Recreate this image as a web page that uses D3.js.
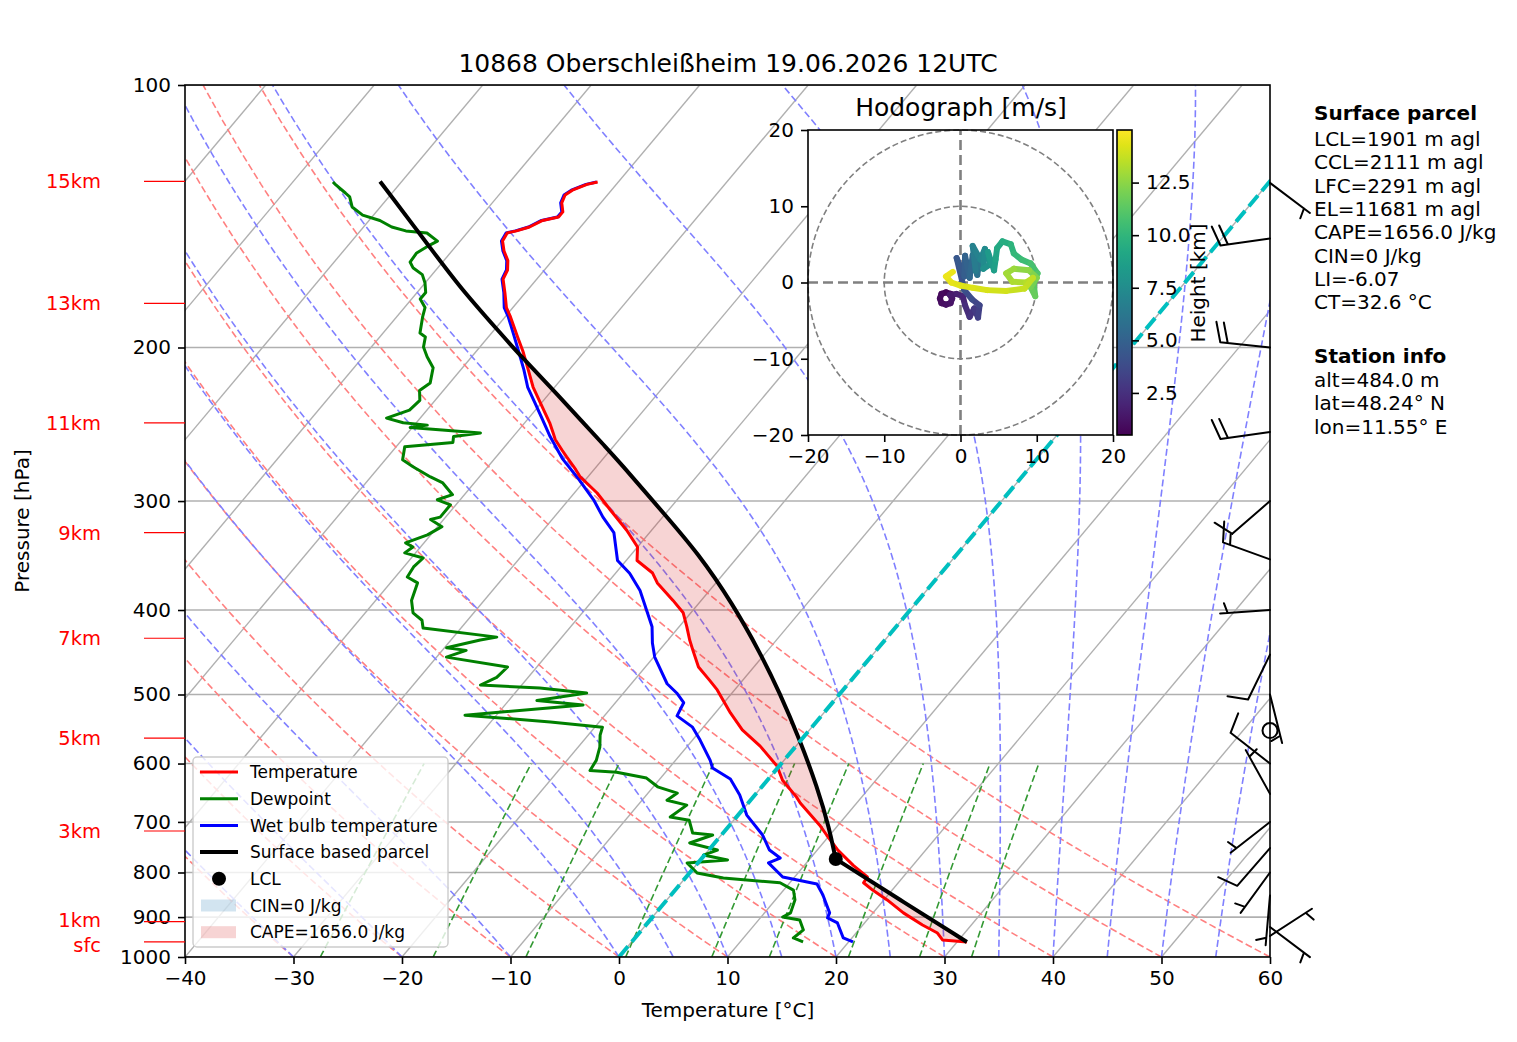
<!DOCTYPE html>
<html>
<head>
<meta charset="utf-8">
<script src="https://d3js.org/d3.v7.min.js"></script>
<style>
  body { margin: 0; background: #fff; }
  svg text { font-family: "DejaVu Sans", sans-serif; }
</style>
</head>
<body>
<svg id="chart" width="1517" height="1042"></svg>

<script>
// ---- sounding profiles (pressure hPa, value degC) ----
const tempP = [129.2,130,132,133.7,136.5,139.8,141.7,143,145.5,147,147.8,151,155,159,163,167,173,180,184.5,194.5,202,212,222,231.5,244,250.6,255,262,267,276,281.5,293.7,307,324,338.7,351,362.8,372.4,390,403,418,433,445,465,482,494,525,549,573,604,627,655.6,666,706,724.6,754,785,809.5,822,838,860,890,919,938.7,956,961];
const tempT = [-61.9,-62.7,-63.6,-63.9,-63.6,-62.8,-62.8,-64.0,-64.7,-65.6,-66.3,-66.1,-65.2,-64.1,-63.4,-63.1,-61.9,-60.6,-59.5,-57.3,-55.7,-53.8,-52.0,-50.1,-47.7,-46.6,-45.9,-44.5,-43.5,-41.7,-40.7,-37.9,-35.4,-32.3,-30.0,-29.0,-26.6,-25.4,-22.6,-20.7,-19.3,-18.0,-16.9,-15.1,-13.0,-11.6,-8.6,-6.2,-3.3,-0.2,1.4,4.0,4.8,8.3,9.7,11.9,14.5,16.7,16.8,18.2,20.3,22.8,25.5,27.5,28.5,30.9];

const dewP = [129.2,130,133,134.4,138,141,143,145.5,147,147.8,151,152.6,155.8,159.6,162,165,168.7,173,176,180,184.5,192.5,194.5,199.7,205,211,219.6,224,230,236,241,244,245.5,247,250.6,253,257,260,269,274,281.5,286,295,299,303,313,315,321,328,335,338.7,344,348.7,357,366.6,372.4,390,403,411,419.5,429.7,433,442,445,453,465,477.8,487.6,491.5,498,508,514,528,537.6,545,556.6,574.5,595,611,614,623.5,638,648.7,661,669.6,691,697,720.8,724.6,740,754,764,774,780,801,811.6,822,838,860,890,900,907,931,951,961];
const dewT = [-86.3,-85.9,-84.3,-83.6,-82.6,-81.0,-79.0,-77.4,-75.8,-73.7,-72.1,-72.5,-73.1,-73.0,-72.3,-70.9,-70.0,-69.2,-69.2,-68.1,-67.6,-66.6,-65.8,-65.2,-64.1,-62.7,-61.8,-62.2,-61.4,-61.6,-63.1,-61.2,-58.8,-60.2,-53.3,-55.5,-55.1,-59.2,-58.4,-56.9,-54.5,-52.9,-51.1,-52.1,-50.5,-50.5,-51.2,-49.6,-50.3,-51.7,-50.7,-51.0,-48.9,-49.1,-48.9,-47.5,-46.7,-45.6,-44.2,-43.5,-36.0,-37.3,-39.8,-37.8,-39.1,-32.7,-32.9,-33.8,-28.1,-23.4,-27.4,-22.8,-32.9,-24.5,-19.3,-18.9,-18.0,-17.3,-17.1,-14.5,-11.3,-9.6,-7.3,-7.7,-5.5,-6.1,-4.1,-2.8,-0.8,-2.3,0.8,-0.1,2.5,-1.0,0.7,3.5,9.1,10.9,11.8,12.4,12.0,13.8,14.9,14.6,15.8];

const wetP = [129.2,130,132,133.7,136.5,139.8,141.7,143,145.5,147,147.8,151,155,159,163,167,173,180,184.5,194.5,202,212,222,231.5,242,253,268,284,299,313,326,351,363,380,400,418,436.5,453,486,498,511,529,545,564,595,607,625,652,687.5,724.6,754,770,780,809.5,824.6,849,890,902,914,951,961];
const wetT = [-62.0,-62.8,-63.7,-64.0,-63.7,-62.9,-62.9,-64.1,-64.8,-65.7,-66.4,-66.2,-65.3,-64.2,-63.5,-63.2,-62.0,-60.8,-59.7,-57.6,-56.1,-54.2,-52.5,-50.6,-48.6,-46.6,-43.8,-40.5,-37.7,-35.5,-33.3,-30.8,-28.7,-26.4,-24.3,-22.5,-21.2,-19.9,-16.7,-15.1,-13.7,-13.3,-11.0,-9.3,-6.8,-6.0,-3.5,-1.4,0.8,3.8,5.6,7.2,6.5,8.9,12.6,14.0,16.0,16.2,17.5,19.2,20.4];

// surface based parcel: moist part (top down to LCL) and dry part (LCL to surface)
const parcelMoistP = [129,153.8,170.5,192.5,204,222,244,260,269,313,344,393,448,498,564,638,715,764,772];
const parcelMoistT = [-82.0,-72.2,-66.5,-59.2,-55.7,-50.4,-44.6,-40.7,-38.6,-29.6,-24.0,-16.9,-10.5,-5.6,-0.1,5.1,9.6,12.0,12.4];
const parcelDryP = [772,858,961];
const parcelDryT = [12.4,21.3,30.9];
const lclP = 772, lclT = 12.4;

// ---- axis ticks / background lines ----
const pTicks = [100,200,300,400,500,600,700,800,900,1000];
const tTicks = [-40,-30,-20,-10,0,10,20,30,40,50,60];
const isoT = d3.range(-110, 61, 10);
const dryT0 = [-40,-30,-20,-10,0,10,20,30,40,50,60];
const moistT0 = [-40,-30,-20,-10,0,5,10,15,20,25,30,35,40,45,50,55,60];
const mixW = [0.0004,0.001,0.002,0.004,0.007,0.01,0.016,0.024,0.032];

// ---- height markers on the left ----
const heightLabels = ["sfc","1km","3km","5km","7km","9km","11km","13km","15km"];
const heightP = [961,911,717,561,431,326,244,178,129];

// ---- wind barbs (knots, direction wind comes from) ----
const barbP = [129.5,150,200,250,300,350,400,450,500,550,600,650,700,750,800,850,924,946];
const barbDir = [127,262,276,262,229,290,266,206,166,0,308,331,232,221,216,185,127,57];
const barbSpd = [5,20,20,20,10,15,5,10,5,0,10,5,5,10,5,5,5,5];

// ---- hodograph (height km, u, v m/s) ----
const hodoH = [0.5,0.6,0.7,0.8,0.9,1.0,1.1,1.2,1.3,1.4,1.6,1.9,2.2,2.5,2.8,3.1,3.4,3.7,4.0,4.3,4.6,4.9,5.2,5.5,5.8,6.1,6.4,6.7,7.0,7.3,7.6,7.9,8.2,8.5,8.8,9.1,9.4,9.7,10.0,10.3,10.6,10.9,11.2,11.5,11.8,12.1,12.4,12.7,12.9,13.1,13.3,13.5,13.7,13.9,14.1,14.2,14.3,14.4,14.5,14.6];
const hodoU = [-1.1,-1.3,-1.9,-2.5,-2.7,-2.5,-1.9,-1.3,-1.1,-1.4,-0.5,0.3,0.6,1.2,1.8,2.3,2.5,1.5,0.5,-0.5,0.5,0.6,1.2,1.6,2.2,2.6,2.0,1.6,2.6,3.2,3.0,3.9,3.6,4.4,4.6,4.8,5.5,6.6,7.0,8.0,9.2,10.1,9.6,9.8,9.2,10.0,9.0,7.0,6.0,6.8,8.6,9.5,8.4,6.0,3.5,1.6,0.0,-1.2,-1.9,-1.0];
const hodoV = [-2.1,-1.5,-1.3,-1.5,-2.1,-2.7,-2.9,-2.7,-2.1,-1.6,-1.5,-1.8,-3.0,-4.5,-3.4,-4.6,-3.0,-2.2,-1.0,3.2,0.8,3.5,0.6,3.6,1.0,3.4,1.5,4.8,3.0,4.4,1.8,2.4,4.0,1.6,3.0,4.5,5.4,5.0,3.8,3.0,2.5,1.2,-0.2,-1.8,-0.6,0.6,1.6,1.8,1.2,0.1,0.0,0.6,-0.8,-1.1,-1.0,-0.7,-0.4,0.0,0.8,1.4];
const cbarTicks = [2.5,5.0,7.5,10.0,12.5];

// ---- text ----
const titleText = "10868 Oberschleißheim 19.06.2026 12UTC";
const parcelInfo = ["LCL=1901 m agl","CCL=2111 m agl","LFC=2291 m agl","EL=11681 m agl","CAPE=1656.0 J/kg","CIN=0 J/kg","LI=-6.07","CT=32.6 °C"];
const stationInfo = ["alt=484.0 m","lat=48.24° N","lon=11.55° E"];
const legendLabels = ["Temperature","Dewpoint","Wet bulb temperature","Surface based parcel","LCL","CIN=0 J/kg","CAPE=1656.0 J/kg"];

const svg = d3.select("#chart");
const defs = svg.append("defs");
defs.append("clipPath").attr("id", "plotClip")
  .append("rect").attr("x", 185).attr("y", 85).attr("width", 1085).attr("height", 872);

const x = d3.scaleLinear().domain([-40, 60]).range([185, 1270]);
const y = d3.scaleLog().domain([1000, 100]).range([957, 85]);
const skew = Math.tan(40 * Math.PI / 180);
const sx = (t, p) => x(t) + (y(1000) - y(p)) * skew;
const skewLine = d3.line().x(d => sx(d[0], d[1])).y(d => y(d[1]));
const skewCurve = d3.line().x(d => sx(d[0], d[1])).y(d => y(d[1])).curve(d3.curveBasis);

const plot = svg.append("g").attr("clip-path", "url(#plotClip)");

// horizontal grid + isotherms
plot.selectAll(".hgrid").data(pTicks).join("line")
  .attr("x1", 185).attr("x2", 1270).attr("y1", d => y(d)).attr("y2", d => y(d))
  .attr("stroke", "#b0b0b0").attr("stroke-width", 1.6);
plot.selectAll(".iso").data(isoT).join("path")
  .attr("d", t => skewLine([[t, 1000], [t, 100]]))
  .attr("fill", "none").attr("stroke", "#b0b0b0").attr("stroke-width", 1.4);

// dry adiabats
const presFine = d3.range(1000, 99, -10);
plot.selectAll(".dry").data(dryT0).join("path")
  .attr("d", t0 => skewLine(presFine.map(p => [(t0 + 273.15) * Math.pow(p / 1000, 0.28571) - 273.15, p])))
  .attr("fill", "none").attr("stroke", "#ff8080").attr("stroke-width", 1.6)
  .attr("stroke-dasharray", "7,3.3");

// moist adiabats
function moistRate(p, Tk) {
  const Tc = Tk - 273.15;
  const es = 6.112 * Math.exp(17.67 * Tc / (Tc + 243.5));
  const rs = 0.6219569 * es / (p - es);
  const Rd = 287.04749, Cp = 1004.6662, Lv = 2.50084e6;
  return (Rd * Tk + Lv * rs) / (Cp + (Lv * Lv * rs * 0.6219569) / (Rd * Tk * Tk)) / p;
}
function moistProfile(t0) {
  let T = t0 + 273.15, p = 1000;
  const dp = -5, out = [[t0, p]];
  while (p > 100) {
    const k1 = moistRate(p, T);
    const k2 = moistRate(p + dp / 2, T + dp / 2 * k1);
    const k3 = moistRate(p + dp / 2, T + dp / 2 * k2);
    const k4 = moistRate(p + dp, T + dp * k3);
    T += dp / 6 * (k1 + 2 * k2 + 2 * k3 + k4);
    p += dp;
    out.push([T - 273.15, p]);
  }
  return out;
}
plot.selectAll(".moist").data(moistT0).join("path")
  .attr("d", t0 => skewLine(moistProfile(t0)))
  .attr("fill", "none").attr("stroke", "#8080ff").attr("stroke-width", 1.6)
  .attr("stroke-dasharray", "7,3.3");

// mixing ratio lines
const presMix = d3.range(1000, 599, -10);
function dewFromW(w, p) {
  const e = p * w / (0.6219569 + w);
  const l = Math.log(e / 6.112);
  return 243.5 * l / (17.67 - l);
}
plot.selectAll(".mix").data(mixW).join("path")
  .attr("d", w => skewLine(presMix.map(p => [dewFromW(w, p), p])))
  .attr("fill", "none").attr("stroke", "#339933").attr("stroke-width", 1.6)
  .attr("stroke-dasharray", "7,3.3");

// layer for CAPE shading (filled later, once the parcel curve exists)
const capeG = plot.append("g");

// profiles
[[dewP, dewT, "#008000"], [wetP, wetT, "#0000ff"], [tempP, tempT, "#ff0000"]].forEach(([ps, ts, c]) => {
  plot.append("path").datum(d3.zip(ts, ps))
    .attr("d", skewLine).attr("fill", "none")
    .attr("stroke", c).attr("stroke-width", 3).attr("stroke-linejoin", "round");
});
const parcelPaths = [[parcelMoistP, parcelMoistT], [parcelDryP, parcelDryT]].map(([ps, ts]) =>
  plot.append("path").datum(d3.zip(ts, ps))
    .attr("d", skewCurve).attr("fill", "none")
    .attr("stroke", "#000").attr("stroke-width", 4).attr("stroke-linejoin", "round").node());

// sample the drawn parcel curve back into (p, T) for the shading
const parcelSamples = [];
parcelPaths.forEach(node => {
  const len = node.getTotalLength();
  for (let k = 0; k <= 600; k++) {
    const pt = node.getPointAtLength(len * k / 600);
    parcelSamples.push([y.invert(pt.y), x.invert(pt.x - (y(1000) - pt.y) * skew)]);
  }
});
parcelSamples.sort((a, b) => a[0] - b[0]);
const sampP = parcelSamples.map(d => d[0]), sampT = parcelSamples.map(d => d[1]);

function interpLogP(ps, ts, p) {
  const i = d3.bisectLeft(ps, p);
  if (i <= 0) return ts[0];
  if (i >= ps.length) return ts[ps.length - 1];
  const den = Math.log(ps[i]) - Math.log(ps[i - 1]);
  const f = den === 0 ? 0 : (Math.log(p) - Math.log(ps[i - 1])) / den;
  return ts[i - 1] + f * (ts[i] - ts[i - 1]);
}
const pLo = 129.5, pHi = 961;
const grid = d3.range(0, 2001).map(k => pLo * Math.pow(pHi / pLo, k / 2000));
const capePolys = [];
let cur = null;
grid.forEach(p => {
  const tp = interpLogP(sampP, sampT, p), te = interpLogP(tempP, tempT, p);
  if (tp > te) {
    if (!cur) { cur = []; capePolys.push(cur); }
    cur.push({ p, tp, te });
  } else cur = null;
});
capeG.selectAll("path").data(capePolys.filter(c => c.length > 1)).join("path")
  .attr("d", c => {
    const pts = c.map(d => [sx(d.tp, d.p), y(d.p)]).concat(c.slice().reverse().map(d => [sx(d.te, d.p), y(d.p)]));
    return "M" + pts.map(q => q.join(",")).join("L") + "Z";
  })
  .attr("fill", "rgba(214,39,40,0.2)").attr("stroke", "none");

// 0 degC isotherm
plot.append("path").attr("d", skewLine([[0, 1000], [0, 100]]))
  .attr("fill", "none").attr("stroke", "#00bfbf").attr("stroke-width", 4)
  .attr("stroke-dasharray", "14,6");

// LCL dot
svg.append("circle").attr("cx", sx(lclT, lclP)).attr("cy", y(lclP)).attr("r", 7).attr("fill", "#000");

// axes frame and ticks
svg.append("rect").attr("x", 185).attr("y", 85).attr("width", 1085).attr("height", 872)
  .attr("fill", "none").attr("stroke", "#000").attr("stroke-width", 1.6);

function styleAxis(g, size) {
  g.select(".domain").remove();
  g.selectAll(".tick line").attr("stroke", "#000").attr("stroke-width", 1.6);
  g.selectAll(".tick text").attr("fill", "#000").style("font-size", size + "px")
    .style("font-family", "'DejaVu Sans', sans-serif");
}
svg.append("g").attr("transform", "translate(185,0)")
  .call(d3.axisLeft(y).tickValues(pTicks).tickFormat(d3.format("d")).tickSize(7).tickPadding(7))
  .call(g => styleAxis(g, 20));
svg.append("g").attr("transform", "translate(0,957)")
  .call(d3.axisBottom(x).tickValues(tTicks).tickSize(7).tickPadding(7))
  .call(g => styleAxis(g, 20));

svg.append("text").attr("x", 728).attr("y", 1017).attr("text-anchor", "middle")
  .style("font-size", "20px").text("Temperature [°C]");
svg.append("text").attr("transform", "translate(29,521) rotate(-90)").attr("text-anchor", "middle")
  .style("font-size", "20px").text("Pressure [hPa]");
svg.append("text").attr("x", 728).attr("y", 72).attr("text-anchor", "middle")
  .style("font-size", "25px").text(titleText);

// height labels
const hl = svg.append("g");
hl.selectAll("line").data(heightP).join("line")
  .attr("x1", 144).attr("x2", 185).attr("y1", d => y(d)).attr("y2", d => y(d))
  .attr("stroke", "#ff0000").attr("stroke-width", 1.2);
hl.selectAll("text").data(heightLabels).join("text")
  .attr("x", 101).attr("y", (d, i) => y(heightP[i]) + (i === 0 ? 3 : i === 1 ? -2 : 0)).attr("dy", "0.36em")
  .attr("text-anchor", "end").attr("fill", "#ff0000").style("font-size", "19.5px").text(d => d);

// wind barbs at the right edge
const barbG = svg.append("g").attr("stroke", "#000").attr("stroke-width", 2).attr("fill", "none")
  .attr("stroke-linecap", "round");
barbP.forEach((p, i) => {
  const bx = 1270, by = y(p), spd = Math.round(barbSpd[i] / 5) * 5;
  if (spd === 0) {
    barbG.append("circle").attr("cx", bx).attr("cy", by).attr("r", 7.5);
    return;
  }
  const a = barbDir[i] * Math.PI / 180, L = 50, sp = 7.5;
  const dx = Math.sin(a), dy = -Math.cos(a), px = -dy, py = dx;
  const tx = bx + dx * L, ty = by + dy * L;
  let d = `M${bx},${by}L${tx},${ty}`;
  const n10 = Math.floor(spd / 10), n5 = (spd % 10) >= 5 ? 1 : 0;
  let pos = (n10 === 0 && n5 === 1) ? sp : 0;
  for (let k = 0; k < n10; k++) {
    const qx = tx - dx * pos, qy = ty - dy * pos;
    d += `M${qx},${qy}L${qx + px * 20 + dx * 6},${qy + py * 20 + dy * 6}`;
    pos += sp;
  }
  if (n5) {
    const qx = tx - dx * pos, qy = ty - dy * pos;
    d += `M${qx},${qy}L${qx + px * 10 + dx * 3},${qy + py * 10 + dy * 3}`;
  }
  barbG.append("path").attr("d", d);
});

// legend
const lg = svg.append("g");
lg.append("rect").attr("x", 193).attr("y", 757).attr("width", 255).attr("height", 190).attr("rx", 4)
  .attr("fill", "rgba(255,255,255,0.8)").attr("stroke", "#cccccc").attr("stroke-width", 1.4);
const legendStyles = [
  { type: "line", c: "#ff0000", w: 3 }, { type: "line", c: "#008000", w: 3 },
  { type: "line", c: "#0000ff", w: 3 }, { type: "line", c: "#000", w: 4 },
  { type: "dot" }, { type: "patch", c: "rgba(31,119,180,0.2)" }, { type: "patch", c: "rgba(214,39,40,0.2)" }
];
legendLabels.forEach((lab, i) => {
  const ry = 772 + i * 26.7, s = legendStyles[i];
  if (s.type === "line") lg.append("line").attr("x1", 200).attr("x2", 238).attr("y1", ry).attr("y2", ry)
    .attr("stroke", s.c).attr("stroke-width", s.w);
  else if (s.type === "dot") lg.append("circle").attr("cx", 219).attr("cy", ry).attr("r", 7).attr("fill", "#000");
  else lg.append("rect").attr("x", 201).attr("y", ry - 6).attr("width", 35).attr("height", 12).attr("fill", s.c);
  lg.append("text").attr("x", 250).attr("y", ry).attr("dy", "0.36em").style("font-size", "17px").text(lab);
});

// hodograph
const hx = d3.scaleLinear().domain([-20, 20]).range([808, 1113]);
const hy = d3.scaleLinear().domain([-20, 20]).range([435, 130]);
const hcol = d3.scaleSequential(d3.interpolateViridis).domain([0.5, 15]);
const hg = svg.append("g");
hg.append("rect").attr("x", 808).attr("y", 130).attr("width", 305).attr("height", 305).attr("fill", "#fff");
hg.selectAll(".ring").data([10, 20]).join("circle")
  .attr("cx", hx(0)).attr("cy", hy(0)).attr("r", d => hx(d) - hx(0))
  .attr("fill", "none").attr("stroke", "#808080").attr("stroke-width", 1.6).attr("stroke-dasharray", "6,3");
hg.append("line").attr("x1", hx(-20)).attr("x2", hx(20)).attr("y1", hy(0)).attr("y2", hy(0))
  .attr("stroke", "#808080").attr("stroke-width", 2.6).attr("stroke-dasharray", "10,5");
hg.append("line").attr("x1", hx(0)).attr("x2", hx(0)).attr("y1", hy(-20)).attr("y2", hy(20))
  .attr("stroke", "#808080").attr("stroke-width", 2.6).attr("stroke-dasharray", "10,5");
const segs = d3.range(hodoH.length - 1);
hg.selectAll(".seg").data(segs).join("line")
  .attr("x1", i => hx(hodoU[i])).attr("y1", i => hy(hodoV[i]))
  .attr("x2", i => hx(hodoU[i + 1])).attr("y2", i => hy(hodoV[i + 1]))
  .attr("stroke", i => hcol((hodoH[i] + hodoH[i + 1]) / 2))
  .attr("stroke-width", 6).attr("stroke-linecap", "round");
hg.append("rect").attr("x", 808).attr("y", 130).attr("width", 305).attr("height", 305)
  .attr("fill", "none").attr("stroke", "#000").attr("stroke-width", 1.6);
hg.append("g").attr("transform", "translate(0,435)")
  .call(d3.axisBottom(hx).tickValues([-20, -10, 0, 10, 20]).tickSize(7).tickPadding(7))
  .call(g => styleAxis(g, 20));
hg.append("g").attr("transform", "translate(808,0)")
  .call(d3.axisLeft(hy).tickValues([-20, -10, 0, 10, 20]).tickSize(7).tickPadding(7))
  .call(g => styleAxis(g, 20));
hg.append("text").attr("x", 961).attr("y", 116).attr("text-anchor", "middle")
  .style("font-size", "25px").text("Hodograph [m/s]");

// colorbar
const grad = defs.append("linearGradient").attr("id", "viridisGrad")
  .attr("x1", 0).attr("y1", 1).attr("x2", 0).attr("y2", 0);
d3.range(0, 1.0001, 0.05).forEach(t => grad.append("stop").attr("offset", t).attr("stop-color", d3.interpolateViridis(t)));
const cb = d3.scaleLinear().domain([0.5, 15]).range([435, 130]);
hg.append("rect").attr("x", 1117).attr("y", 130).attr("width", 15).attr("height", 305)
  .attr("fill", "url(#viridisGrad)").attr("stroke", "#000").attr("stroke-width", 1.6);
hg.append("g").attr("transform", "translate(1132,0)")
  .call(d3.axisRight(cb).tickValues(cbarTicks).tickFormat(d3.format(".1f")).tickSize(7).tickPadding(7))
  .call(g => styleAxis(g, 20));
hg.append("text").attr("transform", "translate(1205,283) rotate(-90)").attr("text-anchor", "middle")
  .style("font-size", "20px").text("Height [km]");

// info text
const info = svg.append("g").style("font-size", "20px");
info.append("text").attr("x", 1314).attr("y", 120).style("font-weight", "bold").text("Surface parcel");
parcelInfo.forEach((t, i) => info.append("text").attr("x", 1314).attr("y", 146 + i * 23.3).text(t));
info.append("text").attr("x", 1314).attr("y", 363).style("font-weight", "bold").text("Station info");
stationInfo.forEach((t, i) => info.append("text").attr("x", 1314).attr("y", 387 + i * 23.3).text(t));
</script>
</body>
</html>
